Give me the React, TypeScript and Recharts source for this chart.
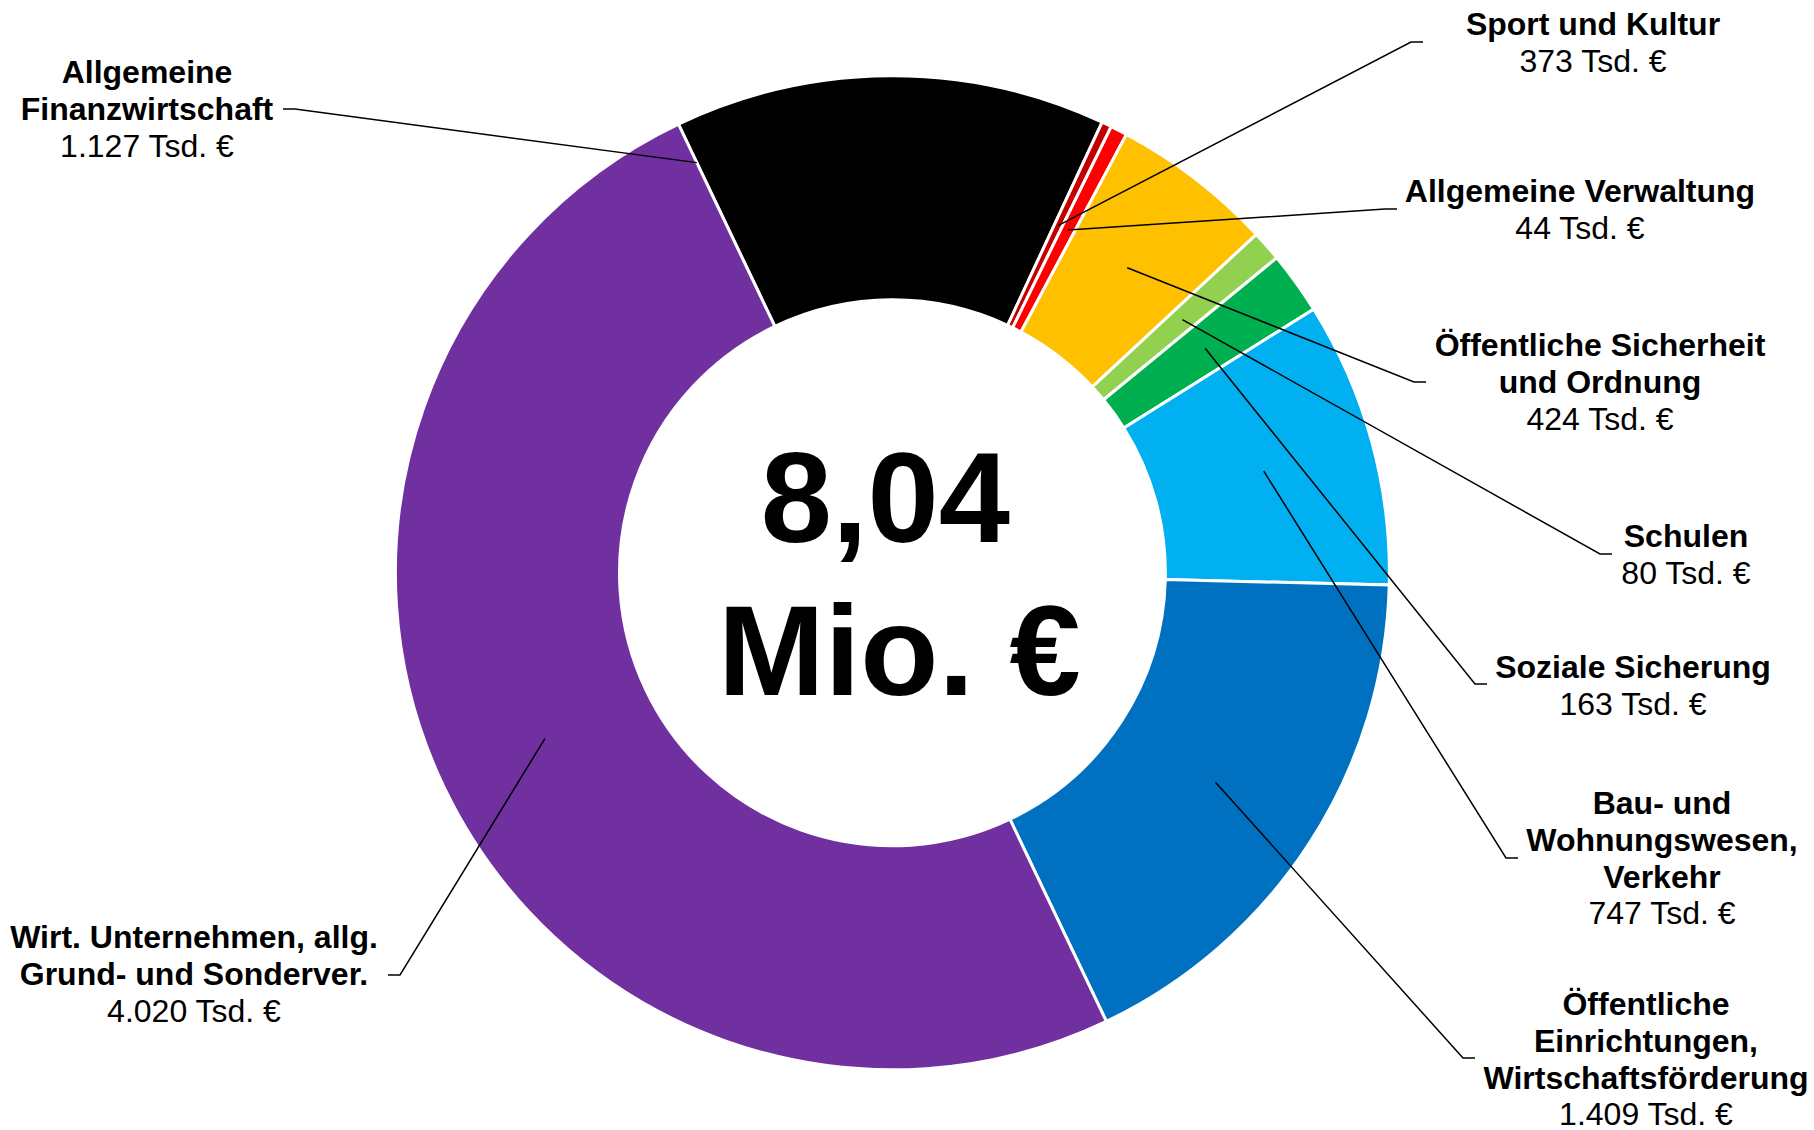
import React from 'react';
import { PieChart, Pie, Cell } from 'recharts';

// Budget areas, clockwise from the top left
const categories = [
  ['Allgemeine', 'Finanzwirtschaft'],
  ['Sport und Kultur'],
  ['Allgemeine Verwaltung'],
  ['Öffentliche Sicherheit', 'und Ordnung'],
  ['Schulen'],
  ['Soziale Sicherung'],
  ['Bau- und', 'Wohnungswesen,', 'Verkehr'],
  ['Öffentliche', 'Einrichtungen,', 'Wirtschaftsförderung'],
  ['Wirt. Unternehmen, allg.', 'Grund- und Sonderver.'],
];

// slice sizes in Tsd. € as drawn in the ring
const sliceValues = [1127, 26, 44, 424, 80, 163, 747, 1409, 4020];

// amounts printed in the labels (Tsd. €)
const labelAmounts = [1127, 373, 44, 424, 80, 163, 747, 1409, 4020];

const colors = ['#000000', '#C00000', '#FF0000', '#FFC000', '#92D050', '#00B050', '#00B0F0', '#0070C0', '#7030A0'];

const totalLines = ['8,04', 'Mio. €'];

// label placement (manually placed labels like in the original)
const labelLayout = [
  { x: 147, y: 83, tailX: 283, tailY: 109, side: -1, anchorAt: 'start', anchorFrac: 0.81 },
  { x: 1593, y: 35, tailX: 1423, tailY: 42, side: 1 },
  { x: 1580, y: 202, tailX: 1397, tailY: 209, side: 1 },
  { x: 1600, y: 356, tailX: 1426, tailY: 382, side: 1 },
  { x: 1686, y: 547, tailX: 1612, tailY: 554, side: 1 },
  { x: 1633, y: 678, tailX: 1487, tailY: 684, side: 1 },
  { x: 1662, y: 814, tailX: 1518, tailY: 858, side: 1 },
  { x: 1646, y: 1015, tailX: 1475, tailY: 1058, side: 1 },
  { x: 194, y: 948, tailX: 388, tailY: 975, side: -1 },
];

const CX = 892.4;
const CY = 572.8;
const FONT = '"Liberation Sans", Arial, sans-serif';
const LINE_H = 36.8;
const TAIL = 12;

const data = categories.map((lines, i) => ({ name: lines.join(' '), value: sliceValues[i] }));

const fmt = (n: number) => String(n).replace(/\B(?=(\d{3})+(?!\d))/g, '.') + ' Tsd. €';

const renderLabel = (props: any) => {
  const { cx, cy, innerRadius, outerRadius, startAngle, endAngle, index } = props;
  const lay: any = labelLayout[index];
  const angle = lay.anchorAt === 'start' ? startAngle : (startAngle + endAngle) / 2;
  const frac = lay.anchorFrac ?? 0.5;
  const r = innerRadius + (outerRadius - innerRadius) * frac;
  const rad = (-angle * Math.PI) / 180;
  const ax = cx + r * Math.cos(rad);
  const ay = cy + r * Math.sin(rad);
  const bendX = lay.side === 1 ? lay.tailX - TAIL : lay.tailX + TAIL;
  const lines = categories[index];
  return (
    <g key={`lbl-${index}`}>
      <polyline
        points={`${ax},${ay} ${bendX},${lay.tailY} ${lay.tailX},${lay.tailY}`}
        fill="none"
        stroke="#000"
        strokeWidth={1.5}
      />
      {lines.map((t, j) => (
        <text key={j} x={lay.x} y={lay.y + j * LINE_H} textAnchor="middle" fontFamily={FONT} fontSize={32} fontWeight="bold" fill="#000">
          {t}
        </text>
      ))}
      <text x={lay.x} y={lay.y + lines.length * LINE_H} textAnchor="middle" fontFamily={FONT} fontSize={32} fill="#000">
        {fmt(labelAmounts[index])}
      </text>
    </g>
  );
};

export default function App() {
  return (
    <div style={{ position: 'absolute', left: 0, top: 0, width: 1814, height: 1130, background: '#fff' }}>
      <PieChart width={1814} height={1130} margin={{ top: 0, right: 0, bottom: 0, left: 0 }}>
        <Pie
          data={data}
          dataKey="value"
          nameKey="name"
          cx={CX}
          cy={CY}
          innerRadius={273}
          outerRadius={497}
          startAngle={115.5}
          endAngle={-244.5}
          stroke="#ffffff"
          strokeWidth={3}
          label={renderLabel}
          labelLine={false}
          isAnimationActive={false}
        >
          {data.map((d, i) => (
            <Cell key={d.name} fill={colors[i]} />
          ))}
        </Pie>
        <text x={CX - 7} y={542} textAnchor="middle" fontFamily={FONT} fontSize={128} fontWeight="bold" fill="#000">
          {totalLines[0]}
        </text>
        <text x={CX + 7} y={695} textAnchor="middle" fontFamily={FONT} fontSize={128} fontWeight="bold" fill="#000">
          {totalLines[1]}
        </text>
      </PieChart>
    </div>
  );
}
